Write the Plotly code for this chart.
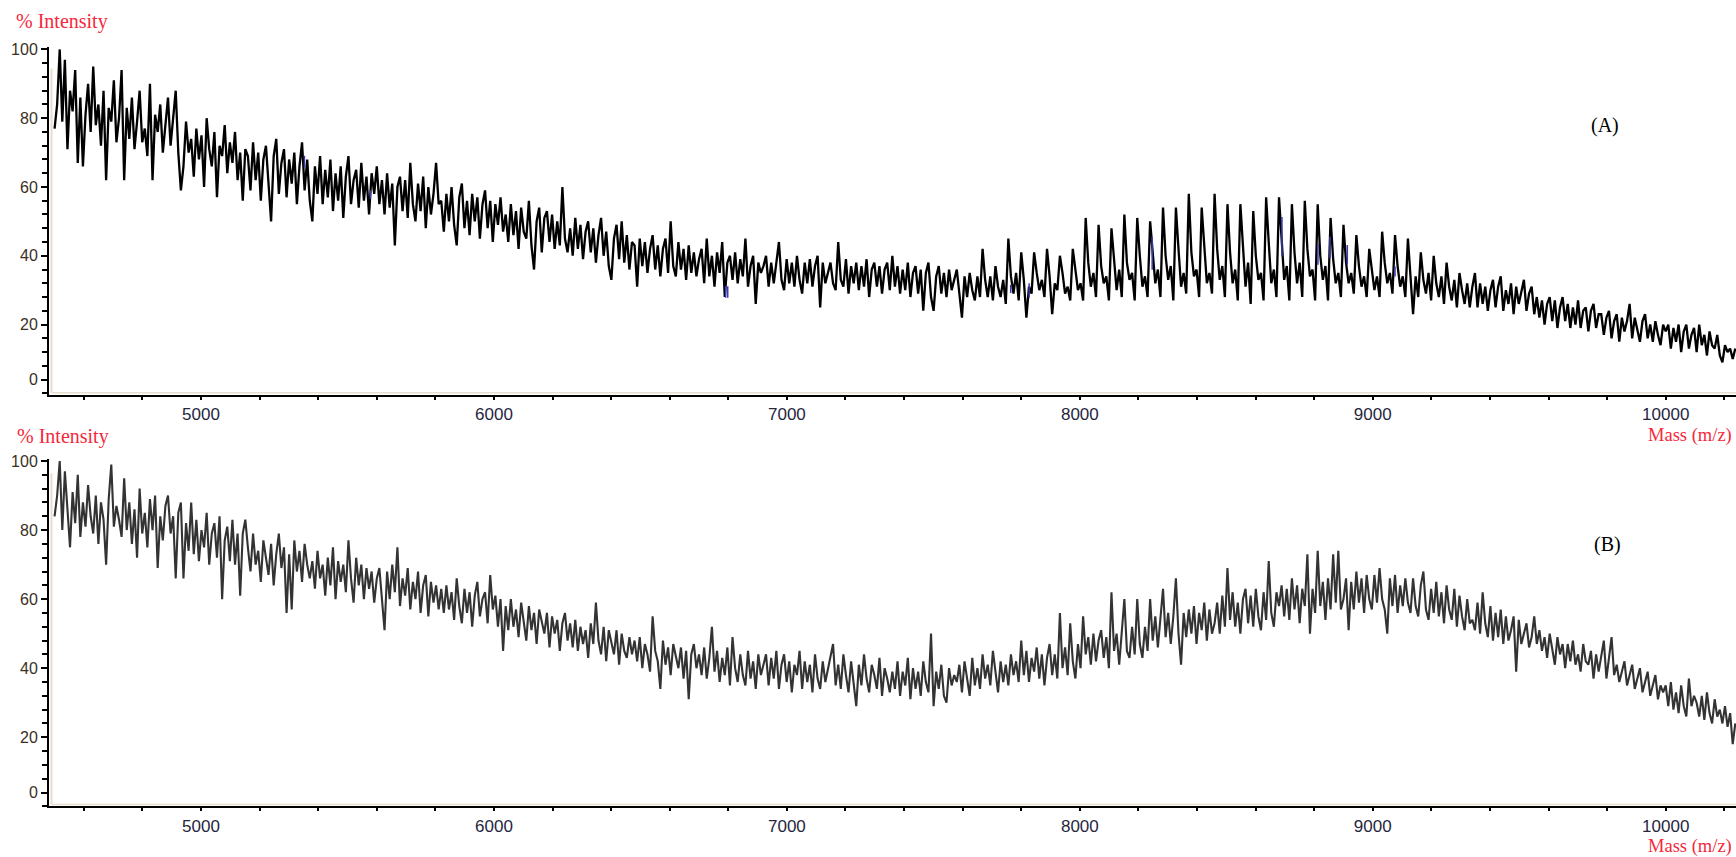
import plotly.graph_objects as go

# Sampling grid of both spectra (m/z)
MASS_START = 4500.0
MASS_STEP = 8.8

# (A) intensity, one row per 220 m/z
intensity_a = [
    77, 84, 100, 79, 97, 71, 88, 82, 94, 67, 86, 66, 81, 90, 76, 95, 78, 84, 72, 88, 62, 83, 79, 91, 73,
    80, 94, 62, 83, 74, 86, 71, 79, 88, 73, 77, 69, 90, 62, 81, 76, 84, 70, 78, 86, 72, 80, 88, 70, 59,
    66, 79, 70, 74, 63, 77, 68, 75, 60, 80, 71, 66, 76, 57, 72, 69, 78, 64, 73, 67, 76, 62, 70, 56, 71,
    69, 59, 73, 62, 70, 56, 68, 72, 60, 50, 69, 74, 58, 67, 71, 57, 68, 61, 70, 55, 66, 73, 59, 68, 56,
    50, 66, 58, 69, 55, 65, 57, 68, 53, 64, 56, 66, 51, 63, 69, 55, 62, 65, 54, 67, 56, 63, 52, 64, 58,
    66, 55, 62, 52, 64, 54, 61, 43, 60, 63, 53, 62, 51, 67, 55, 50, 61, 53, 63, 48, 60, 52, 58, 67, 55,
    56, 47, 58, 50, 60, 49, 43, 57, 61, 48, 56, 46, 58, 50, 57, 45, 55, 59, 48, 56, 44, 55, 49, 57, 47,
    52, 44, 55, 46, 53, 42, 54, 47, 45, 56, 43, 36, 50, 54, 41, 51, 53, 44, 52, 42, 50, 43, 60, 45, 41,
    48, 40, 51, 42, 49, 39, 47, 50, 41, 48, 38, 46, 51, 40, 47, 37, 33, 45, 49, 39, 50, 38, 46, 36, 44,
    43, 31, 45, 37, 44, 35, 42, 46, 36, 43, 34, 42, 45, 35, 50, 37, 34, 44, 36, 42, 33, 43, 35, 41, 34,
    39, 42, 32, 45, 34, 40, 31, 41, 35, 44, 28, 38, 40, 33, 41, 32, 39, 34, 45, 31, 37, 40, 26, 38, 35,
    37, 40, 31, 38, 32, 39, 44, 33, 30, 39, 32, 38, 31, 40, 33, 29, 38, 32, 39, 31, 37, 40, 25, 38, 32,
    35, 38, 32, 30, 44, 33, 31, 39, 29, 37, 32, 38, 30, 37, 31, 39, 28, 36, 38, 31, 37, 29, 36, 38, 30,
    40, 31, 37, 29, 36, 30, 38, 28, 35, 37, 29, 36, 24, 35, 38, 28, 24, 34, 37, 29, 35, 28, 36, 30, 33,
    36, 29, 22, 34, 28, 35, 30, 27, 34, 28, 42, 33, 28, 34, 27, 37, 31, 28, 33, 26, 45, 34, 29, 35, 27,
    41, 33, 22, 31, 29, 41, 35, 30, 33, 28, 42, 34, 23, 32, 30, 40, 35, 29, 31, 27, 42, 36, 30, 32, 27,
    51, 38, 31, 35, 28, 49, 37, 32, 34, 27, 48, 39, 30, 36, 28, 52, 38, 33, 35, 27, 51, 40, 31, 34, 28,
    50, 41, 32, 36, 28, 54, 40, 33, 37, 27, 54, 42, 31, 35, 29, 58, 41, 34, 36, 28, 54, 43, 32, 35, 29,
    58, 42, 33, 37, 28, 55, 41, 32, 36, 27, 55, 43, 31, 38, 26, 53, 40, 33, 35, 27, 57, 44, 32, 36, 28,
    57, 43, 33, 37, 27, 55, 41, 32, 38, 28, 56, 42, 34, 36, 27, 55, 40, 33, 37, 27, 51, 39, 32, 35, 28,
    49, 38, 32, 35, 29, 46, 37, 31, 34, 28, 42, 36, 30, 34, 28, 47, 38, 32, 35, 29, 46, 37, 31, 34, 28,
    45, 35, 23, 34, 28, 41, 33, 29, 35, 27, 40, 32, 28, 34, 26, 38, 31, 27, 33, 25, 35, 30, 26, 32, 25,
    31, 35, 25, 32, 26, 31, 24, 30, 33, 25, 31, 34, 24, 30, 26, 32, 23, 31, 26, 30, 33, 24, 29, 31, 23,
    28, 22, 27, 20, 26, 28, 21, 27, 19, 25, 28, 21, 26, 19, 25, 20, 27, 19, 24, 25, 18, 24, 26, 19, 23,
    23, 17, 22, 24, 16, 21, 23, 15, 22, 18, 21, 26, 16, 22, 18, 15, 21, 23, 16, 20, 15, 21, 17, 14, 20,
    18, 20, 13, 19, 15, 20, 12, 18, 20, 13, 17, 19, 12, 20, 14, 17, 11, 18, 14, 13, 17, 11, 9, 14, 12,
    13, 10, 13,
]

# (B) intensity, one row per 220 m/z
intensity_b = [
    84, 90, 100, 80, 97, 86, 75, 91, 82, 96, 78, 88, 81, 93, 84, 79, 90, 76, 88, 83, 70, 89, 99, 81, 87,
    83, 78, 95, 80, 88, 76, 86, 72, 92, 79, 85, 75, 89, 80, 90, 69, 84, 77, 87, 90, 79, 84, 66, 85, 88,
    66, 82, 74, 88, 73, 83, 71, 80, 75, 85, 70, 79, 82, 72, 84, 60, 77, 81, 71, 83, 70, 79, 61, 79, 83,
    75, 68, 79, 70, 74, 65, 77, 72, 67, 76, 64, 73, 79, 69, 75, 56, 73, 57, 77, 68, 74, 65, 76, 70, 66,
    71, 63, 74, 66, 70, 61, 72, 64, 75, 60, 71, 65, 70, 62, 77, 66, 59, 72, 64, 70, 60, 69, 63, 68, 59,
    66, 69, 60, 51, 68, 60, 70, 62, 75, 58, 66, 61, 69, 57, 65, 60, 68, 56, 64, 67, 55, 65, 59, 64, 57,
    63, 56, 64, 57, 62, 54, 66, 58, 53, 63, 56, 62, 52, 61, 65, 55, 60, 62, 53, 67, 57, 61, 52, 60, 45,
    58, 51, 60, 52, 57, 49, 59, 54, 48, 58, 51, 56, 47, 57, 53, 50, 56, 46, 55, 50, 54, 45, 53, 56, 48,
    53, 46, 54, 45, 52, 47, 51, 43, 53, 47, 59, 48, 44, 52, 42, 51, 47, 44, 51, 41, 50, 45, 43, 49, 44,
    48, 42, 49, 40, 47, 44, 39, 55, 45, 42, 34, 48, 41, 46, 38, 47, 43, 40, 46, 37, 45, 31, 44, 47, 40,
    44, 38, 46, 37, 43, 52, 39, 45, 36, 43, 38, 46, 35, 49, 40, 36, 44, 38, 35, 45, 37, 42, 34, 44, 38,
    41, 44, 35, 43, 37, 45, 34, 41, 44, 36, 42, 33, 41, 38, 45, 34, 42, 36, 41, 33, 44, 37, 34, 42, 36,
    40, 43, 47, 35, 41, 34, 44, 38, 33, 42, 36, 29, 41, 35, 44, 37, 33, 41, 38, 34, 43, 32, 40, 37, 33,
    39, 34, 42, 32, 39, 35, 43, 31, 40, 34, 39, 32, 42, 36, 33, 50, 29, 39, 34, 41, 32, 30, 40, 35, 38,
    36, 41, 33, 42, 37, 32, 43, 35, 40, 34, 44, 37, 41, 35, 45, 38, 33, 42, 36, 41, 35, 44, 38, 42, 36,
    48, 38, 45, 36, 43, 39, 46, 37, 44, 35, 43, 47, 38, 44, 37, 56, 40, 46, 38, 53, 42, 37, 47, 40, 55,
    44, 49, 41, 50, 42, 48, 51, 43, 49, 40, 62, 45, 50, 41, 51, 60, 45, 43, 52, 44, 60, 47, 43, 52, 45,
    60, 48, 55, 46, 54, 63, 49, 56, 47, 55, 66, 50, 41, 56, 49, 57, 50, 58, 47, 56, 51, 59, 48, 57, 50,
    53, 59, 50, 61, 52, 69, 54, 62, 52, 59, 50, 60, 63, 53, 61, 52, 63, 55, 51, 62, 54, 71, 56, 52, 62,
    58, 64, 55, 63, 54, 66, 57, 64, 53, 63, 58, 73, 50, 63, 56, 74, 58, 65, 54, 66, 57, 73, 59, 74, 57,
    60, 66, 51, 65, 57, 68, 59, 66, 56, 67, 60, 57, 67, 59, 69, 60, 57, 50, 66, 58, 67, 56, 64, 58, 66,
    59, 56, 66, 58, 55, 64, 68, 57, 54, 63, 56, 65, 55, 62, 53, 64, 57, 54, 63, 52, 61, 55, 51, 60, 53,
    54, 51, 59, 50, 62, 53, 49, 58, 48, 56, 49, 57, 47, 55, 48, 51, 55, 39, 54, 47, 50, 53, 46, 49, 55,
    47, 51, 45, 49, 43, 50, 46, 41, 49, 44, 47, 40, 47, 42, 48, 41, 44, 39, 47, 42, 41, 45, 37, 44, 39,
    43, 48, 37, 44, 49, 38, 41, 36, 39, 42, 35, 38, 41, 34, 37, 40, 33, 36, 39, 32, 35, 38, 31, 35, 33,
    35, 29, 36, 28, 33, 27, 35, 29, 26, 37, 29, 32, 30, 26, 32, 25, 33, 27, 24, 31, 26, 28, 24, 29, 23,
    27, 18, 24,
]

# Highlighted peak segments in (A): m/z and intensity span
peak_mark_mass = [5353, 5578, 6791, 6798, 7764, 7827, 8247, 8690, 8813, 8854, 8913, 9076]
peak_mark_low = [65.7, 56.6, 27.8, 27.8, 29.2, 27.8, 35.9, 39.8, 37.4, 39.3, 37.4, 34.0]
peak_mark_high = [69.1, 59.0, 31.1, 31.1, 31.6, 32.0, 45.5, 51.3, 43.6, 45.5, 43.1, 36.9]

y_tick_vals = [4, 20, 40, 60, 80, 100]
y_tick_text = ["0", "20", "40", "60", "80", "100"]

W, H = 1736, 857
RED = "#f5283c"
SERIF = "Liberation Serif"
SANS = "Liberation Sans"

mass_a = [MASS_START + MASS_STEP * i for i in range(len(intensity_a))]
mass_b = [MASS_START + MASS_STEP * i for i in range(len(intensity_b))]

mark_x, mark_y = [], []
for m, lo, hi in zip(peak_mark_mass, peak_mark_low, peak_mark_high):
    mark_x += [m, m, None]
    mark_y += [lo, hi, None]

fig = go.Figure()
fig.add_trace(go.Scatter(x=mass_a, y=intensity_a, mode="lines", xaxis="x", yaxis="y",
                         line=dict(color="#000000", width=2.3), hoverinfo="skip"))
fig.add_trace(go.Scatter(x=mark_x, y=mark_y, mode="lines", xaxis="x", yaxis="y",
                         line=dict(color="#3b3bb0", width=1.5), hoverinfo="skip"))
fig.add_trace(go.Scatter(x=mass_b, y=intensity_b, mode="lines", xaxis="x2", yaxis="y2",
                         line=dict(color="#333333", width=2.1), hoverinfo="skip"))


def px_y(p):
    return 1 - p / H


x_dom = [49 / W, 1.0]
x_common = dict(
    domain=x_dom, range=[4481, 10240], showline=True, linecolor="#000000", linewidth=2,
    ticks="outside", ticklen=3, tickwidth=1.5, tickcolor="#000000",
    tickmode="linear", tick0=0, dtick=1000, tickformat="d",
    tickfont=dict(family=SANS, size=17, color="#262640"),
    showgrid=False, zeroline=False,
    minor=dict(tickmode="linear", tick0=0, dtick=200, ticks="outside", ticklen=3,
               tickwidth=1.5, tickcolor="#000000", showgrid=False),
)
y_common = dict(
    showline=True, linecolor="#000000", linewidth=2,
    ticks="outside", ticklen=6, tickwidth=1.5, tickcolor="#000000",
    tickmode="array", tickvals=y_tick_vals, ticktext=y_tick_text,
    tickfont=dict(family=SANS, size=16, color="#3b3024"),
    showgrid=False, zeroline=False,
    minor=dict(tickmode="linear", tick0=0, dtick=4, ticks="outside", ticklen=5,
               tickwidth=1.5, tickcolor="#000000", showgrid=False),
)

fig.update_layout(
    width=W, height=H, margin=dict(l=0, r=0, t=0, b=0),
    paper_bgcolor="#ffffff", plot_bgcolor="#ffffff", showlegend=False,
    xaxis=dict(anchor="y", **x_common),
    yaxis=dict(anchor="x", domain=[px_y(391), px_y(40)], range=[-0.43, 100.8], **y_common),
    xaxis2=dict(anchor="y2", **x_common),
    yaxis2=dict(anchor="x2", domain=[px_y(806), px_y(456)], range=[-0.03, 100.5], **y_common),
)

# light inner edge along both axes of each panel
edge = "#e6dfcb"
shapes = []
for top, bottom in [(62, 389), (470, 804)]:
    shapes.append(dict(type="line", xref="paper", yref="paper", x0=51.5 / W, x1=51.5 / W,
                       y0=px_y(bottom), y1=px_y(top), line=dict(color=edge, width=2)))
    shapes.append(dict(type="line", xref="paper", yref="paper", x0=52 / W, x1=1,
                       y0=px_y(bottom), y1=px_y(bottom), line=dict(color=edge, width=1.5)))
fig.update_layout(shapes=shapes)

annotations = [
    dict(text="% Intensity", x=14 / W, y=px_y(15), xanchor="left", yanchor="middle",
         font=dict(family=SERIF, size=20, color=RED)),
    dict(text="% Intensity", x=15 / W, y=px_y(433), xanchor="left", yanchor="middle",
         font=dict(family=SERIF, size=20, color=RED)),
    dict(text="Mass (m/z)", x=1734 / W, y=px_y(432.5), xanchor="right", yanchor="middle",
         font=dict(family=SERIF, size=18.5, color=RED)),
    dict(text="Mass (m/z)", x=1734 / W, y=px_y(846), xanchor="right", yanchor="middle",
         font=dict(family=SERIF, size=18.5, color=RED)),
    dict(text="(A)", x=1605 / W, y=px_y(119), xanchor="center", yanchor="middle",
         font=dict(family=SERIF, size=20, color="#000000")),
    dict(text="(B)", x=1607 / W, y=px_y(542), xanchor="center", yanchor="middle",
         font=dict(family=SERIF, size=20, color="#000000")),
]
for a in annotations:
    a.update(xref="paper", yref="paper", showarrow=False)
fig.update_layout(annotations=annotations)

fig.write_html("out.html")
